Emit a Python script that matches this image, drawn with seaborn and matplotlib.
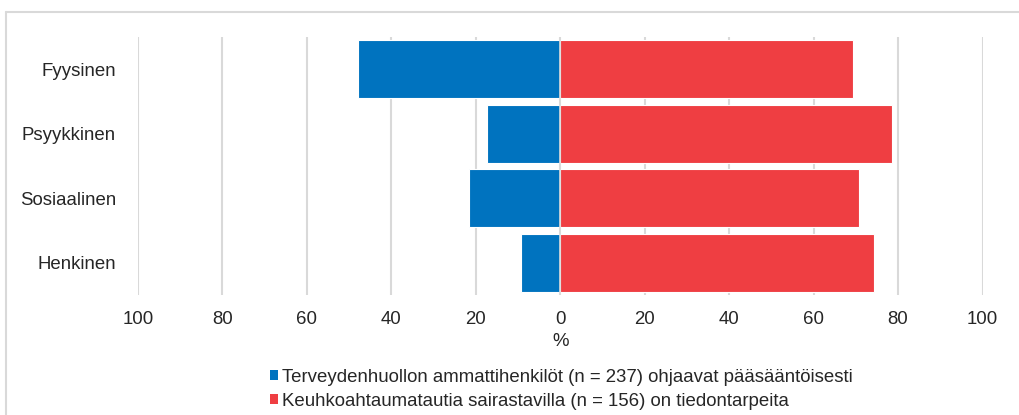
import matplotlib
matplotlib.use("Agg")
import matplotlib.pyplot as plt
from matplotlib.patches import Patch
from matplotlib.lines import Line2D
from matplotlib.ticker import FuncFormatter
import seaborn as sns
import pandas as pd

# Categories (top to bottom) and shares in percent
categories = ["Fyysinen", "Psyykkinen", "Sosiaalinen", "Henkinen"]
professionals = [47.9, 17.3, 21.5, 9.4]      # drawn to the left
patients = [69.3, 78.5, 70.8, 74.2]          # drawn to the right
legend_labels = [
    "Terveydenhuollon ammattihenkilöt (n = 237) ohjaavat pääsääntöisesti",
    "Keuhkoahtaumatautia sairastavilla (n = 156) on tiedontarpeita",
]
x_ticks = [-100, -80, -60, -40, -20, 0, 20, 40, 60, 80, 100]

BLUE = "#0073BF"
RED = "#EF3E42"
GRID = "#D9D9D9"
TEXT = "#262626"

sns.set_theme(style="white")
plt.rcParams["font.family"] = ["Liberation Sans", "DejaVu Sans"]

df_left = pd.DataFrame({"kategoria": categories, "arvo": [-v for v in professionals]})
df_right = pd.DataFrame({"kategoria": categories, "arvo": patients})

fig = plt.figure(figsize=(10.19, 4.15), dpi=100)
ax = fig.add_axes([138 / 1019, 1 - 295 / 415, (982.5 - 138) / 1019, (295 - 37) / 415])

for x in x_ticks:
    ax.axvline(x, color=GRID, lw=1.5, zorder=0)

sns.barplot(data=df_left, x="arvo", y="kategoria", orient="h", color=BLUE,
            width=0.9, edgecolor="white", linewidth=0.8, saturation=1, ax=ax, zorder=2)
sns.barplot(data=df_right, x="arvo", y="kategoria", orient="h", color=RED,
            width=0.9, edgecolor="white", linewidth=0.8, saturation=1, ax=ax, zorder=2)
ax.axvline(0, color=GRID, lw=1.2, zorder=3)

ax.set_xlim(-100, 100)
ax.set_ylim(3.5, -0.5)
ax.set_xticks(x_ticks)
ax.xaxis.set_major_formatter(FuncFormatter(lambda v, p: f"{abs(int(round(v)))}"))
ax.tick_params(axis="x", length=0, pad=11.5, labelsize=13.4, labelcolor=TEXT)
ax.tick_params(axis="y", length=0, pad=15.8, labelsize=13.4, labelcolor=TEXT)
ax.set_ylabel("")
ax.set_xlabel("%", fontsize=13.4, color=TEXT, labelpad=3.5)
for s in ax.spines.values():
    s.set_visible(False)

# Outer frame (top and left edges)
fig.add_artist(Line2D([6 / 1019, 1.0], [1 - 12 / 415, 1 - 12 / 415],
                      transform=fig.transFigure, color=GRID, lw=1.5))
fig.add_artist(Line2D([6 / 1019, 6 / 1019], [1 - 12 / 415, 0.0],
                      transform=fig.transFigure, color=GRID, lw=1.5))

handles = [Patch(facecolor=BLUE, edgecolor="none"), Patch(facecolor=RED, edgecolor="none")]
fig.legend(handles, legend_labels, loc="upper left",
           bbox_to_anchor=(270 / 1019, 1 - 369 / 415), frameon=False,
           fontsize=13.4, labelcolor=TEXT, handlelength=0.45, handleheight=0.45,
           handletextpad=0.2, borderpad=0, borderaxespad=0, labelspacing=0.35)

fig.savefig("out.png", dpi=100)
